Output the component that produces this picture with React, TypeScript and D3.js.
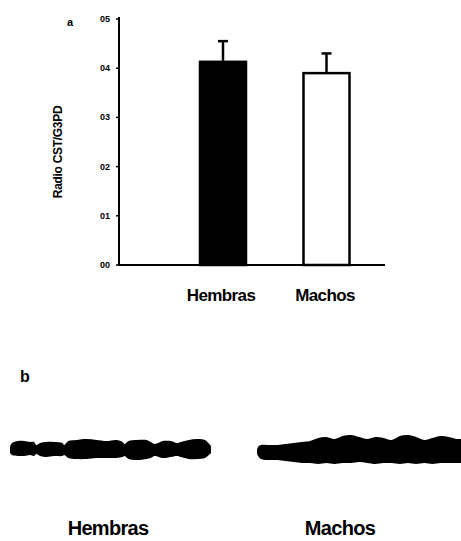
import React from "react";
import * as d3 from "d3";

const categories = ["Hembras", "Machos"];
const means = [0.415, 0.392];
const sems = [0.04, 0.038];
const barFills = ["#000000", "#ffffff"];
const yTicks = [0.0, 0.1, 0.2, 0.3, 0.4, 0.5];
const yTickLabels = ["00", "01", "02", "03", "04", "05"];
const yTitle = "Radio CST/G3PD";

// Western blot band outlines (x fraction along band, top / bottom edge offsets in px from band centre)
const hembrasBandX = [0, 0.01, 0.04, 0.07, 0.1, 0.12, 0.13, 0.15, 0.18, 0.22, 0.26, 0.27, 0.29, 0.33, 0.38, 0.43, 0.48, 0.53, 0.56, 0.57, 0.59, 0.63, 0.68, 0.7, 0.72, 0.76, 0.8, 0.83, 0.85, 0.89, 0.93, 0.97, 1];
const hembrasBandTop = [-3, -7, -9, -9, -8, -8, -5, -7, -8, -8, -7, -5, -9, -10, -11, -10, -9, -10, -8, -6, -9, -10, -10, -8, -6, -9, -9, -7, -8, -10, -11, -10, -4];
const hembrasBandBottom = [3, 5, 6, 6, 5, 6, 4, 6, 7, 6, 6, 5, 8, 9, 9, 8, 8, 8, 7, 6, 9, 10, 9, 8, 6, 8, 7, 6, 7, 9, 9, 8, 3];

const machosBandX = [0, 0.005, 0.02, 0.05, 0.1, 0.14, 0.18, 0.22, 0.26, 0.3, 0.34, 0.38, 0.42, 0.46, 0.5, 0.54, 0.58, 0.62, 0.66, 0.7, 0.74, 0.78, 0.82, 0.86, 0.9, 0.94, 0.98, 1];
const machosBandTop = [-1, -4, -6, -6, -6, -7, -8, -9, -10, -13, -14, -12, -15, -16, -14, -12, -14, -13, -11, -15, -16, -14, -11, -13, -15, -14, -12, -12];
const machosBandBottom = [2, 5, 8, 9, 9, 10, 11, 12, 12, 13, 12, 13, 12, 12, 11, 12, 13, 12, 12, 13, 12, 13, 12, 13, 12, 12, 12, 12];

const bandLabels = ["Hembras", "Machos"];

export default function App() {
  const W = 461;
  const H = 541;
  const y = d3.scaleLinear().domain([0, 0.5]).range([265, 19]);
  const xc = d3.scalePoint<string>().domain(categories).range([221, 325]);
  const barW = 48;
  const axisX = 119;
  const axisEnd = 385;
  const barCenters = [223, 326.5];

  const font = "'Liberation Sans', Arial, sans-serif";

  const bandScale = d3.scaleLinear().domain([0, 1]);
  const makeBand = (xs: number[], tops: number[], bots: number[], x0: number, x1: number, cy: number) => {
    bandScale.range([x0, x1]);
    const pts = xs.map((v, i) => ({ x: bandScale(v), t: cy + tops[i], b: cy + bots[i] }));
    const area = d3
      .area<{ x: number; t: number; b: number }>()
      .x((d) => d.x)
      .y0((d) => d.t)
      .y1((d) => d.b)
      .curve(d3.curveCatmullRom);
    return area(pts) || "";
  };

  const barX = d3.scalePoint<string>().domain(categories).range(barCenters);

  return (
    <svg width={W} height={H} style={{ position: "absolute", left: 0, top: 0, background: "#fff" }}>
      <rect x={0} y={0} width={W} height={H} fill="#fff" />
      {/* panel label a */}
      <text x={67} y={26} fontFamily={font} fontWeight="bold" fontSize={11} fill="#000">a</text>
      {/* y axis */}
      <line x1={axisX} x2={axisX} y1={y(0.5) - 2} y2={y(0) + 1} stroke="#000" strokeWidth={2} />
      {yTicks.map((t, i) => (
        <g key={t}>
          <line x1={axisX - 3} x2={axisX} y1={y(t)} y2={y(t)} stroke="#000" strokeWidth={1.5} />
          <text
            x={110}
            y={y(t) + 3}
            textAnchor="end"
            fontFamily={font}
            fontWeight="bold"
            fontSize={9}
            fill="#000"
          >
            {yTickLabels[i]}
          </text>
        </g>
      ))}
      <text
        transform={`translate(62,${152}) rotate(-90)`}
        textAnchor="middle"
        fontFamily={font}
        fontSize={12}
        fontWeight="bold"
        letterSpacing={-0.3}
        fill="#000"
      >
        {yTitle}
      </text>
      {/* bars */}
      {categories.map((c, i) => {
        const cx = barX(c) as number;
        return (
          <g key={c}>
            <line x1={cx} x2={cx} y1={y(means[i])} y2={y(means[i] + sems[i])} stroke="#000" strokeWidth={2.5} />
            <line x1={cx - 5} x2={cx + 5} y1={y(means[i] + sems[i])} y2={y(means[i] + sems[i])} stroke="#000" strokeWidth={2.5} />
            <rect
              x={cx - barW / 2 + 1}
              y={y(means[i]) + 1}
              width={barW - 2}
              height={y(0) - y(means[i]) - 1}
              fill={barFills[i]}
              stroke="#000"
              strokeWidth={2.5}
            />
          </g>
        );
      })}
      {/* x axis */}
      <line x1={axisX - 1} x2={axisEnd} y1={y(0)} y2={y(0)} stroke="#000" strokeWidth={2} />
      {categories.map((c) => (
        <text
          key={c}
          x={xc(c) as number}
          y={301}
          textAnchor="middle"
          fontFamily={font}
          fontSize={17}
          letterSpacing={-0.6}
          fontWeight="bold"
          fill="#000"
        >
          {c}
        </text>
      ))}
      {/* panel b */}
      <text x={20} y={382} fontFamily={font} fontWeight="bold" fontSize={16} fill="#000">b</text>
      <path d={makeBand(hembrasBandX, hembrasBandTop, hembrasBandBottom, 10, 211, 450)} fill="#000" />
      <path d={makeBand(machosBandX, machosBandTop, machosBandBottom, 257, 461, 451)} fill="#000" />
      <text x={108} y={535} textAnchor="middle" fontFamily={font} fontSize={20} letterSpacing={-0.7} fontWeight="bold" fill="#000">
        {bandLabels[0]}
      </text>
      <text x={340} y={535} textAnchor="middle" fontFamily={font} fontSize={20} letterSpacing={-0.7} fontWeight="bold" fill="#000">
        {bandLabels[1]}
      </text>
    </svg>
  );
}
